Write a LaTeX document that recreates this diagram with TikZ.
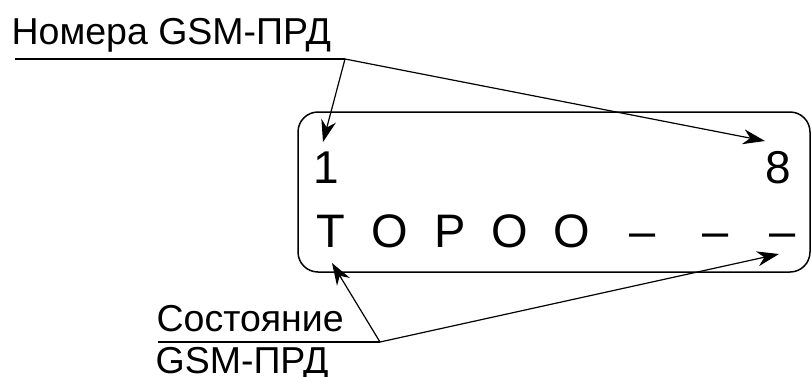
\documentclass[tikz,border=0pt]{standalone}
\usepackage{fontspec}
\setmainfont{Liberation Sans}
\usetikzlibrary{arrows.meta}

\begin{document}
\begin{tikzpicture}[x=1pt,y=-1pt,line width=1.2pt,
                    >={Stealth[length=22pt,width=15pt,inset=7pt]},
                    caption/.style={inner sep=0pt,anchor=base west,font=\fontsize{37.5}{42}\selectfont},
                    digit/.style={inner sep=0pt,anchor=base,font=\fontsize{46}{50}\selectfont},
                    cell/.style={inner sep=0pt,anchor=base,font=\fontsize{47}{50}\selectfont},
                    panel/.style={draw,line width=1.5pt,rounded corners=20pt}]
  \useasboundingbox (0,0) rectangle (811,376);

  % display of the GSM transmitter
  \draw[panel] (298,112) rectangle (810,272);
  \node (One) [digit] at (326,183) {1};
  \node (Eight) [digit] at (778,183) {8};
  \foreach \ch/\xx [count=\i] in {Т/331,О/390,Р/450,О/510,О/572,–/643,–/716,–/783}
    \node (Cell\i) [cell] at (\xx,247) {\ch};

  % callouts
  \node (Numbers) [caption] at (11,44) {Номера GSM-ПРД};
  \node (State) [caption] at (156,331) {Состояние};
  \node (StateGsm) [caption] at (155,373) {GSM-ПРД};

  \coordinate (NumStart) at (15,59);
  \coordinate (NumVertex) at (345,59);
  \coordinate (OneTip) at (323,142);
  \coordinate (EightTip) at (765,141);
  \coordinate (StateStart) at (158,342);
  \coordinate (StateVertex) at (380,342);
  \coordinate (FirstTip) at (332,263);
  \coordinate (LastTip) at (779,254);

  \draw (NumStart) -- (NumVertex);
  \draw (StateStart) -- (StateVertex);
  \path[->]
    (NumVertex)
        edge (OneTip)
        edge (EightTip)
    (StateVertex)
        edge (FirstTip)
        edge (LastTip)
    ;
\end{tikzpicture}
\end{document}
